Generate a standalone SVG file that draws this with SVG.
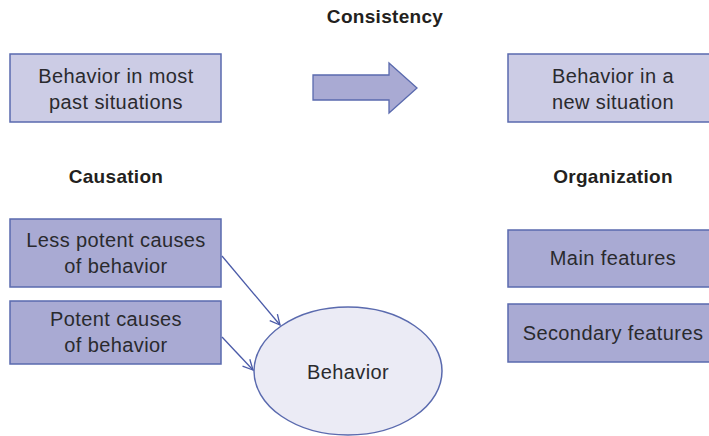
<svg xmlns="http://www.w3.org/2000/svg" width="709" height="436" viewBox="0 0 709 436">
<defs>
<style>
.t{font-family:"Liberation Sans",Arial,sans-serif;font-size:20px;fill:#2a2a2e;text-anchor:middle;letter-spacing:0.4px}
.h{font-family:"Liberation Sans",Arial,sans-serif;font-size:19px;font-weight:bold;fill:#231f20;text-anchor:middle;letter-spacing:0.3px}
.light{fill:#cccce5;stroke:#5a6aae;stroke-width:1.5}
.dark{fill:#a9aad3;stroke:#5a6aae;stroke-width:1.5}
.conn{stroke:#4a5aa8;stroke-width:1.3;fill:none}
</style>
<marker id="ah" markerWidth="12" markerHeight="12" refX="11" refY="6" orient="auto" markerUnits="userSpaceOnUse">
<path d="M1,1 L11,6 L1,11" fill="none" stroke="#4a5aa8" stroke-width="1.3"/>
</marker>
</defs>
<rect width="709" height="436" fill="#ffffff"/>
<text class="h" x="385" y="23">Consistency</text>
<text class="h" x="116" y="183">Causation</text>
<text class="h" x="613" y="183">Organization</text>
<g id="past">
<rect class="light" x="10" y="54" width="211" height="68"/>
<text class="t" x="116" y="83">Behavior in most</text>
<text class="t" x="116" y="109">past situations</text>
</g>
<g id="bigarrow">
<polygon points="313,75 389,75 389,63 417,88 389,113 389,100 313,100" fill="#a9aad3" stroke="#5a6aae" stroke-width="1.3"/>
</g>
<g id="newsit">
<rect class="light" x="508" y="54" width="211" height="68"/>
<text class="t" x="613" y="83">Behavior in a</text>
<text class="t" x="613" y="109">new situation</text>
</g>
<g id="lesspotent">
<rect class="dark" x="10" y="219" width="211" height="68"/>
<text class="t" x="116" y="247">Less potent causes</text>
<text class="t" x="116" y="273">of behavior</text>
</g>
<g id="potent">
<rect class="dark" x="10" y="301" width="211" height="63"/>
<text class="t" x="116" y="326">Potent causes</text>
<text class="t" x="116" y="352">of behavior</text>
</g>
<g id="behavior">
<ellipse cx="348" cy="371" rx="94" ry="64" fill="#ebebf5" stroke="#5a6aae" stroke-width="1.5"/>
<text class="t" x="348" y="379">Behavior</text>
</g>
<g id="main">
<rect class="dark" x="508" y="230" width="211" height="57"/>
<text class="t" x="613" y="265">Main features</text>
</g>
<g id="secondary">
<rect class="dark" x="508" y="304" width="211" height="58"/>
<text class="t" x="613" y="340">Secondary features</text>
</g>
<g id="connectors">
<line class="conn" x1="222" y1="256" x2="280" y2="325" marker-end="url(#ah)"/>
<line class="conn" x1="222" y1="337" x2="253" y2="370" marker-end="url(#ah)"/>
</g>
</svg>
